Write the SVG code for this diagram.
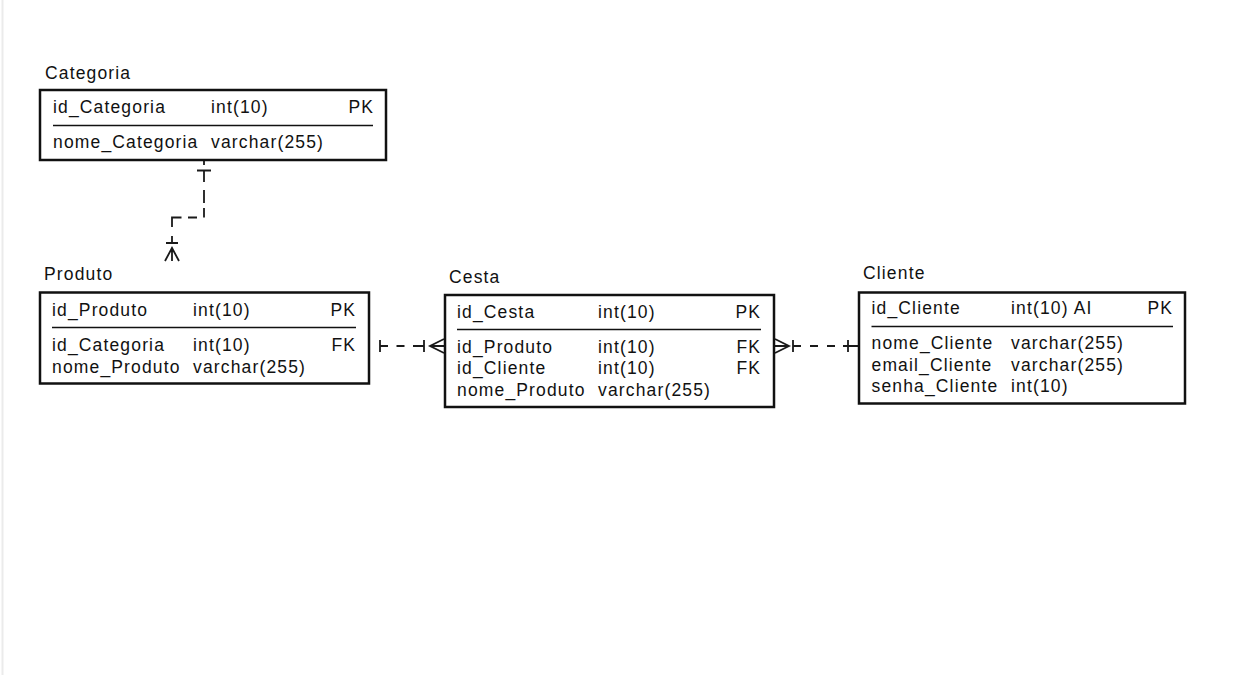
<svg xmlns="http://www.w3.org/2000/svg" width="1239" height="675" viewBox="0 0 1239 675">
<style>
.box{fill:#fff;stroke:#111;stroke-width:2.5}
.sep{stroke:#111;stroke-width:1.5}
text{font-family:"Liberation Sans",Arial,sans-serif;font-size:17.5px;letter-spacing:1.15px;fill:#111}
.end{text-anchor:end}
.mk{fill:none;stroke:#1a1a1a;stroke-width:1.8}
</style>
<rect width="1239" height="675" fill="#fff"/>
<line x1="2.5" y1="0" x2="2.5" y2="675" stroke="#ebebeb" stroke-width="2"/>
<g id="connectors">
<g id="conn-categoria-produto">
<path class="mk" d="M204,161V165M197,170.5H211M204,170.5V182M204,190V203M204,208V217.5M197,217.5H188M181.5,217.5H172V227M172,236V243M166,243H178M172,248V261M165,261L172,248L179,261"/>
</g>
<g id="conn-produto-cesta">
<path class="mk" d="M380,340V352M380,346H388M396.5,346H404.5M413,346H424M430,346H444M424,340V352M444,339L430,346L444,353"/>
</g>
<g id="conn-cesta-cliente">
<path class="mk" d="M775,339L789,346L775,353M775,346H789M793,340V352M793,346H801M810,346H818M827,346H835M843,346H858M848,340V352"/>
</g>
</g>
<g id="categoria">
<text x="45" y="79">Categoria</text>
<rect class="box" x="40" y="90" width="346" height="70"/>
<line class="sep" x1="53" y1="125.5" x2="373" y2="125.5"/>
<text x="53" y="113">id_Categoria</text>
<text x="211" y="113">int(10)</text>
<text class="end" x="374.2" y="113">PK</text>
<text x="53" y="148">nome_Categoria</text>
<text x="211" y="148">varchar(255)</text>
</g>
<g id="produto">
<text x="44" y="280">Produto</text>
<rect class="box" x="40" y="292.5" width="329" height="91"/>
<line class="sep" x1="52" y1="327.5" x2="356" y2="327.5"/>
<text x="52" y="315.5">id_Produto</text>
<text x="193" y="315.5">int(10)</text>
<text class="end" x="356.2" y="315.5">PK</text>
<text x="52" y="350.5">id_Categoria</text>
<text x="193" y="350.5">int(10)</text>
<text class="end" x="356.2" y="350.5">FK</text>
<text x="52" y="372.5">nome_Produto</text>
<text x="193" y="372.5">varchar(255)</text>
</g>
<g id="cesta">
<text x="449" y="282.5">Cesta</text>
<rect class="box" x="445" y="295" width="329" height="112"/>
<line class="sep" x1="457" y1="329.5" x2="761" y2="329.5"/>
<text x="457" y="318">id_Cesta</text>
<text x="598" y="318">int(10)</text>
<text class="end" x="761.2" y="318">PK</text>
<text x="457" y="352.5">id_Produto</text>
<text x="598" y="352.5">int(10)</text>
<text class="end" x="761.2" y="352.5">FK</text>
<text x="457" y="374">id_Cliente</text>
<text x="598" y="374">int(10)</text>
<text class="end" x="761.2" y="374">FK</text>
<text x="457" y="396">nome_Produto</text>
<text x="598" y="396">varchar(255)</text>
</g>
<g id="cliente">
<text x="863" y="279">Cliente</text>
<rect class="box" x="859" y="292.5" width="326" height="111"/>
<line class="sep" x1="871.5" y1="326.5" x2="1173" y2="326.5"/>
<text x="871.5" y="314">id_Cliente</text>
<text x="1011" y="314">int(10) AI</text>
<text class="end" x="1173.2" y="314">PK</text>
<text x="871.5" y="349">nome_Cliente</text>
<text x="1011" y="349">varchar(255)</text>
<text x="871.5" y="371">email_Cliente</text>
<text x="1011" y="371">varchar(255)</text>
<text x="871.5" y="391.5">senha_Cliente</text>
<text x="1011" y="391.5">int(10)</text>
</g>
</svg>
